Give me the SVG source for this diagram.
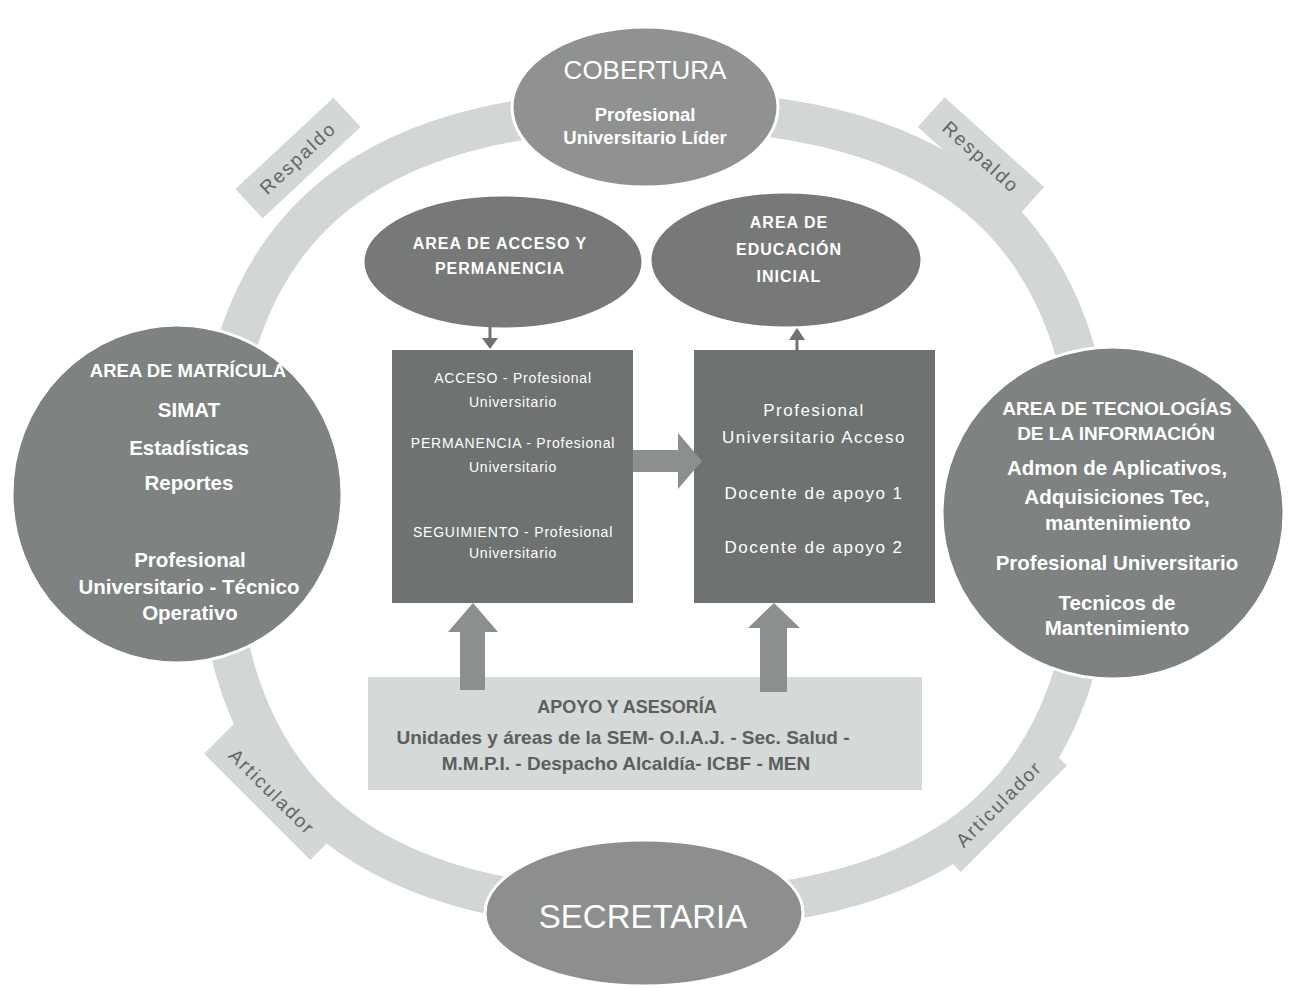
<svg xmlns="http://www.w3.org/2000/svg" width="1296" height="990" viewBox="0 0 1296 990">
<style>
text{font-family:"Liberation Sans",Arial,sans-serif;text-anchor:middle}
.w{fill:#ffffff}
.wb{fill:#ffffff;font-weight:bold}
.lbl{fill:#626664;font-size:19px;letter-spacing:2px;dominant-baseline:central}
.tag{fill:#d3d7d5}
.node{stroke:#ffffff;stroke-width:3}
.arr{fill:#8b8f8d}
</style>
<rect width="1296" height="990" fill="#ffffff"/>
<g id="ring">
<path d="M215,510 C215,234.8 352.3,110 655,110 C957.7,110 1095,234.8 1095,510 C1095,785.2 957.7,910 655,910 C352.3,910 215,785.2 215,510 Z" fill="none" stroke="#d2d6d4" stroke-width="40"/>
</g>
<g id="labels">
<g transform="translate(298,158) rotate(-43)"><rect class="tag" x="-67" y="-20" width="134" height="40"/><text class="lbl" x="0" y="0">Respaldo</text></g>
<g transform="translate(981,157) rotate(42)"><rect class="tag" x="-67" y="-20" width="134" height="40"/><text class="lbl" x="0" y="0">Respaldo</text></g>
<g transform="translate(272,792) rotate(45)"><rect class="tag" x="-75" y="-21" width="150" height="42"/><text class="lbl" x="0" y="0">Articulador</text></g>
<g transform="translate(999,804) rotate(-45)"><rect class="tag" x="-75" y="-21" width="150" height="42"/><text class="lbl" x="0" y="0">Articulador</text></g>
</g>
<g id="cobertura">
<ellipse class="node" cx="645" cy="107" rx="133" ry="80" fill="#8f9290"/>
<text class="w" x="645" y="79" font-size="26">COBERTURA</text>
<text class="wb" x="645" y="121" font-size="18.5">Profesional</text>
<text class="wb" x="645" y="144" font-size="18.5">Universitario Líder</text>
</g>
<g id="secretaria">
<ellipse class="node" cx="644" cy="913" rx="159" ry="73" fill="#8c8f8d"/>
<text class="w" x="643" y="928" font-size="33">SECRETARIA</text>
</g>
<g id="matricula">
<ellipse class="node" cx="177" cy="494" rx="165" ry="169" fill="#7e8280"/>
<text class="wb" x="188" y="377" font-size="18.5">AREA DE MATRÍCULA</text>
<text class="wb" x="189" y="417" font-size="20.5">SIMAT</text>
<text class="wb" x="189" y="455" font-size="20.5">Estadísticas</text>
<text class="wb" x="189" y="490" font-size="20.5">Reportes</text>
<text class="wb" x="190" y="567" font-size="20.5">Profesional</text>
<text class="wb" x="189" y="594" font-size="20.5">Universitario - Técnico</text>
<text class="wb" x="190" y="620" font-size="20.5">Operativo</text>
</g>
<g id="tecnologias">
<ellipse class="node" cx="1113" cy="513" rx="171" ry="166" fill="#7e8280"/>
<text class="wb" x="1117" y="415" font-size="19">AREA DE TECNOLOGÍAS</text>
<text class="wb" x="1116" y="440" font-size="19">DE LA INFORMACIÓN</text>
<text class="wb" x="1117" y="475" font-size="20.5">Admon de Aplicativos,</text>
<text class="wb" x="1117" y="504" font-size="20.5">Adquisiciones Tec,</text>
<text class="wb" x="1118" y="530" font-size="20.5">mantenimiento</text>
<text class="wb" x="1117" y="570" font-size="20.5">Profesional Universitario</text>
<text class="wb" x="1117" y="610" font-size="20.5">Tecnicos de</text>
<text class="wb" x="1117" y="635" font-size="20.5">Mantenimiento</text>
</g>
<g id="acceso-area">
<ellipse class="node" cx="503" cy="262" rx="140" ry="67" fill="#767977"/>
<text class="wb" x="500" y="249" font-size="16" letter-spacing="1">AREA DE ACCESO Y</text>
<text class="wb" x="500" y="274" font-size="16" letter-spacing="1">PERMANENCIA</text>
</g>
<g id="educacion-area">
<ellipse class="node" cx="786" cy="260" rx="136" ry="68" fill="#767977"/>
<text class="wb" x="789" y="228" font-size="16" letter-spacing="1">AREA DE</text>
<text class="wb" x="789" y="255" font-size="16" letter-spacing="1">EDUCACIÓN</text>
<text class="wb" x="789" y="282" font-size="16" letter-spacing="1">INICIAL</text>
</g>
<g id="box-acceso">
<rect x="392" y="350" width="241" height="253" fill="#6e7270"/>
<g class="w" font-size="14" letter-spacing="0.8">
<text x="513" y="383">ACCESO - Profesional</text>
<text x="513" y="407">Universitario</text>
<text x="513" y="448">PERMANENCIA - Profesional</text>
<text x="513" y="472">Universitario</text>
<text x="513" y="537">SEGUIMIENTO - Profesional</text>
<text x="513" y="558">Universitario</text>
</g>
</g>
<g id="box-educacion">
<rect x="694" y="350" width="241" height="253" fill="#6e7270"/>
<g class="w" font-size="17" letter-spacing="1.5">
<text x="814" y="416">Profesional</text>
<text x="814" y="443">Universitario Acceso</text>
<text x="814" y="499">Docente de apoyo 1</text>
<text x="814" y="553">Docente de apoyo 2</text>
</g>
</g>
<g id="apoyo">
<rect x="368" y="677" width="554" height="113" fill="#d5d9d7"/>
<g fill="#5b5f5d" font-weight="bold">
<text x="627" y="713" font-size="18">APOYO Y ASESORÍA</text>
<text x="623" y="744" font-size="19">Unidades y áreas de la SEM- O.I.A.J. - Sec. Salud -</text>
<text x="626" y="770" font-size="19">M.M.P.I. - Despacho Alcaldía- ICBF - MEN</text>
</g>
</g>
<g id="connectors">
<polygon class="arr" points="473,603 498,632 485,632 485,690 460,690 460,632 448,632"/>
<polygon class="arr" points="774,603 800,628 787,628 787,692 760,692 760,628 748,628"/>
<polygon class="arr" points="633,450 678,450 678,433 702,461 678,489 678,472 633,472"/>
<line x1="490" y1="327" x2="490" y2="340" stroke="#6e7270" stroke-width="3"/>
<polygon points="482,338 498,338 490,349" fill="#6e7270"/>
<line x1="797" y1="339" x2="797" y2="351" stroke="#6e7270" stroke-width="3"/>
<polygon points="789,340 805,340 797,328" fill="#6e7270"/>
</g>
</svg>
